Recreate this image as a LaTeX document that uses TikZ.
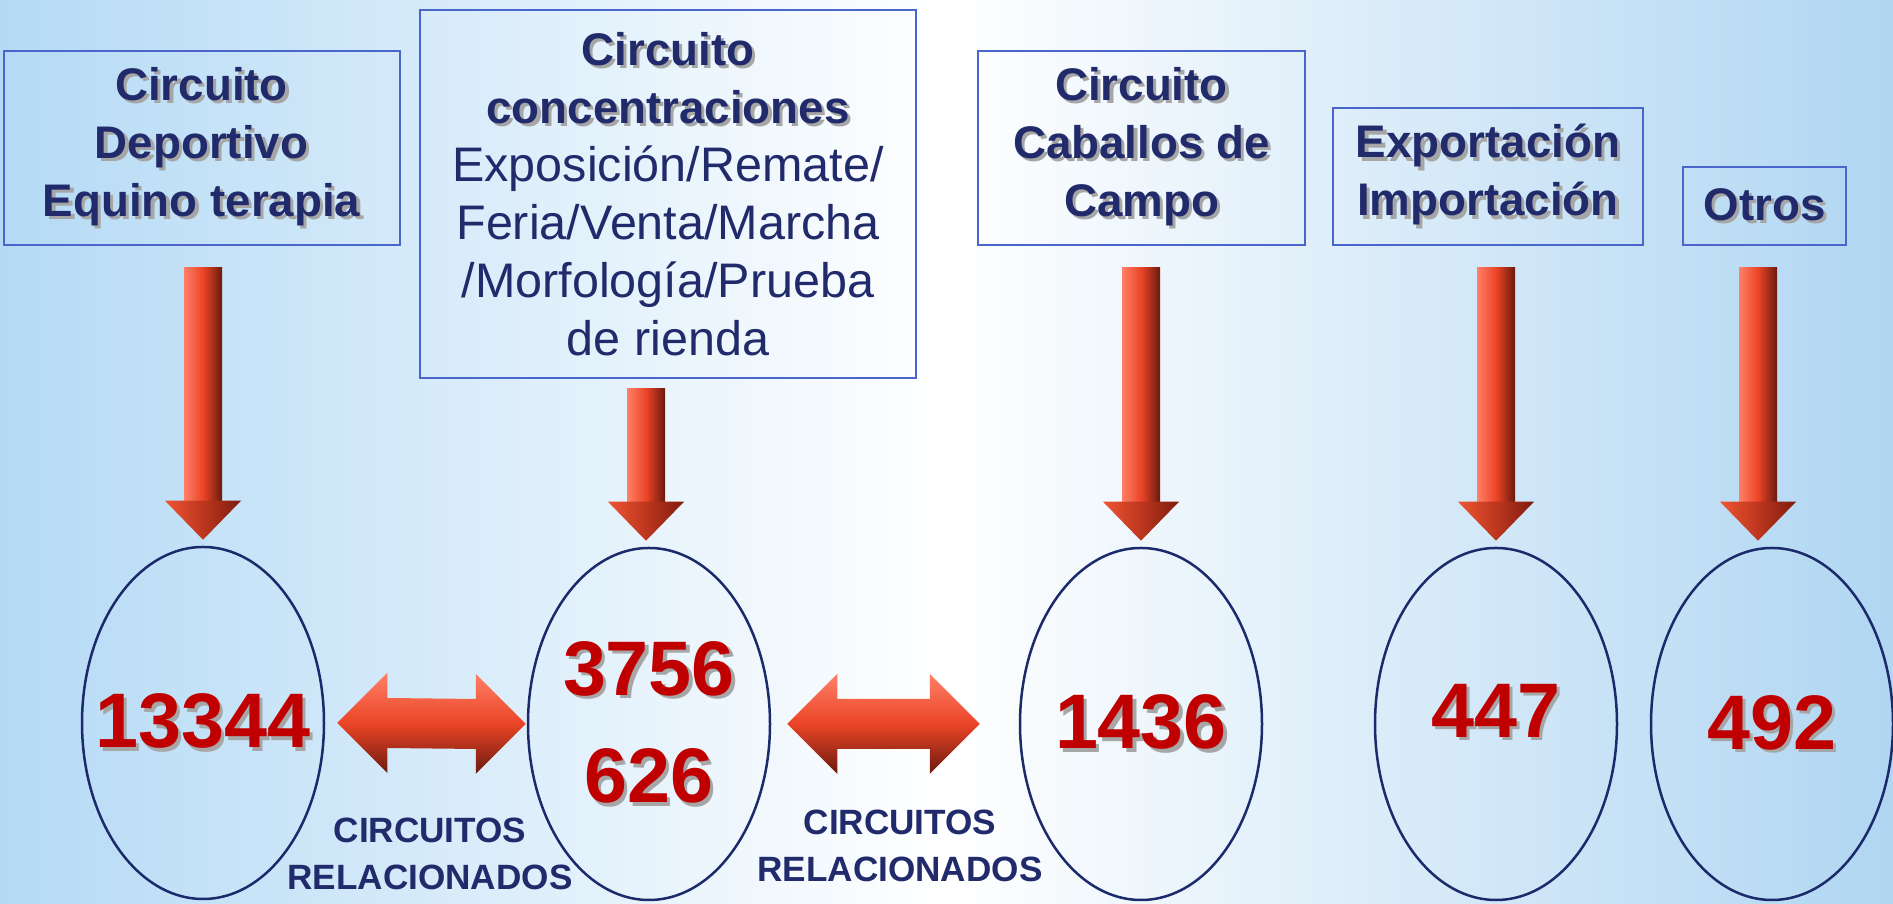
\documentclass[tikz,border=0pt]{standalone}
\usepackage{fontspec}
\setmainfont{Liberation Sans}
\usepackage{xcolor}
\usetikzlibrary{shapes.geometric, calc}

\definecolor{celesteIzq}{HTML}{B4DAF5}
\definecolor{celesteDer}{HTML}{B0D6F2}
\definecolor{azulTexto}{HTML}{212B6B}
\definecolor{azulBorde}{HTML}{4A66CC}
\definecolor{azulElipse}{HTML}{1B2A6B}
\definecolor{rojoNumero}{HTML}{C00000}
\definecolor{rojoClaro}{HTML}{FF8068}
\definecolor{rojoMedio}{HTML}{EB4426}
\definecolor{rojoOscuro}{HTML}{6A1A0E}
\definecolor{puntaClara}{HTML}{EE5533}
\definecolor{puntaOscura}{HTML}{7E1C0E}

\newcommand{\sombra}[1]{\makebox[0pt][l]{\kern0.9pt\raisebox{-0.9pt}{\textcolor{black!35}{#1}}}#1}
\newcommand{\fina}[1]{{\mdseries\fontsize{13.8}{16.5}\selectfont #1}}
\newcommand{\cifra}[1]{\makebox[0pt]{\sombra{#1}}}

\tikzset{
  caja/.style={draw=azulBorde, line width=0.02cm, align=center, inner sep=0pt,
    text=azulTexto, font=\bfseries\fontsize{13}{16.5}\selectfont},
  elipse/.style={ellipse, draw=azulElipse, line width=0.025cm, inner sep=0pt,
    minimum width=2.42cm, minimum height=3.52cm, align=center,
    text=rojoNumero, font=\bfseries\fontsize{22}{30.7}\selectfont},
  relacion/.style={align=center, text=azulTexto, font=\bfseries\fontsize{10}{13.3}\selectfont},
  cana/.style={left color=rojoClaro, right color=rojoOscuro, middle color=rojoMedio},
  punta/.style={left color=puntaClara, right color=puntaOscura, middle color=rojoMedio!80!black},
  doble/.style={top color=rojoClaro, bottom color=rojoOscuro, middle color=rojoMedio}
}

\begin{document}
\begin{tikzpicture}
    \useasboundingbox (0,0) rectangle (18.93,9.04);
    \shade[left color=celesteIzq, right color=celesteDer, middle color=white] (0,0) rectangle (18.93,9.04);

    \node[caja, minimum width=3.96cm, minimum height=1.94cm, anchor=south] (Caja1) at (2.016,6.58)
        {\sombra{Circuito}\\\sombra{Deportivo}\\\sombra{Equino terapia}};
    \node[caja, minimum width=4.96cm, minimum height=3.68cm, anchor=south] (Caja2) at (6.68,5.25)
        {\sombra{Circuito}\\\sombra{concentraciones}\\\fina{Exposición/Remate/}\\
         \fina{Feria/Venta/Marcha}\\\fina{/Morfología/Prueba}\\\fina{de rienda}};
    \node[caja, minimum width=3.27cm, minimum height=1.94cm, anchor=south] (Caja3) at (11.415,6.58)
        {\sombra{Circuito}\\\sombra{Caballos de}\\\sombra{Campo}};
    \node[caja, minimum width=3.10cm, minimum height=1.37cm, anchor=south] (Caja4) at (14.88,6.58)
        {\sombra{Exportación}\\\sombra{Importación}};
    \node[caja, minimum width=1.63cm, minimum height=0.78cm, anchor=south] (Caja5) at (17.645,6.58)
        {\sombra{Otros}};

    \node[elipse] (Elipse1) at (2.03,1.81) {\cifra{13344}};
    \node[elipse] (Elipse2) at (6.49,1.80) {\cifra{3756}\\\cifra{626}};
    \node[elipse] (Elipse3) at (11.41,1.80) {\cifra{1436}};
    \node[elipse] (Elipse4) at (14.96,1.80) {\raisebox{0.26cm}{\cifra{447}}};
    \node[elipse] (Elipse5) at (17.72,1.80) {\cifra{492}};

    \foreach \i/\g/\d in {1/0.22/0, 2/0.10/-0.03, 3/0.22/0, 4/0.22/0, 5/0.22/-0.14} {
        \coordinate (Alto\i) at ($(Elipse\i.north |- Caja\i.south)+(\d,-\g)$);
        \coordinate (Punta\i) at ($(Elipse\i.north)+(\d,0.06)$);
        \shade[cana] ($(Alto\i)+(-0.19,0)$) rectangle ($(Punta\i)+(0.19,0.39)$);
        \shade[punta] ($(Punta\i)+(-0.38,0.39)$) -- ($(Punta\i)+(0.38,0.39)$) -- (Punta\i) -- cycle;
    }

    \foreach \a/\b/\l/\r in {1/2/0.12/0.01, 2/3/0.16/0.39} {
        \coordinate (Izq\a) at ($(Elipse\a.east)+(\l,0)$);
        \coordinate (Der\a) at ($(Elipse\b.west)+(-\r,0)$);
        \shade[doble] (Izq\a) -- ($(Izq\a)+(0.5,0.5)$) -- ($(Izq\a)+(0.5,0.25)$)
            -- ($(Der\a)+(-0.5,0.25)$) -- ($(Der\a)+(-0.5,0.5)$) -- (Der\a)
            -- ($(Der\a)+(-0.5,-0.5)$) -- ($(Der\a)+(-0.5,-0.25)$)
            -- ($(Izq\a)+(0.5,-0.25)$) -- ($(Izq\a)+(0.5,-0.5)$) -- cycle;
    }

    \node[relacion] (Relacion1) at (4.30,0.50) {CIRCUITOS\\RELACIONADOS};
    \node[relacion] (Relacion2) at (9.00,0.58) {CIRCUITOS\\RELACIONADOS};
\end{tikzpicture}
\end{document}
